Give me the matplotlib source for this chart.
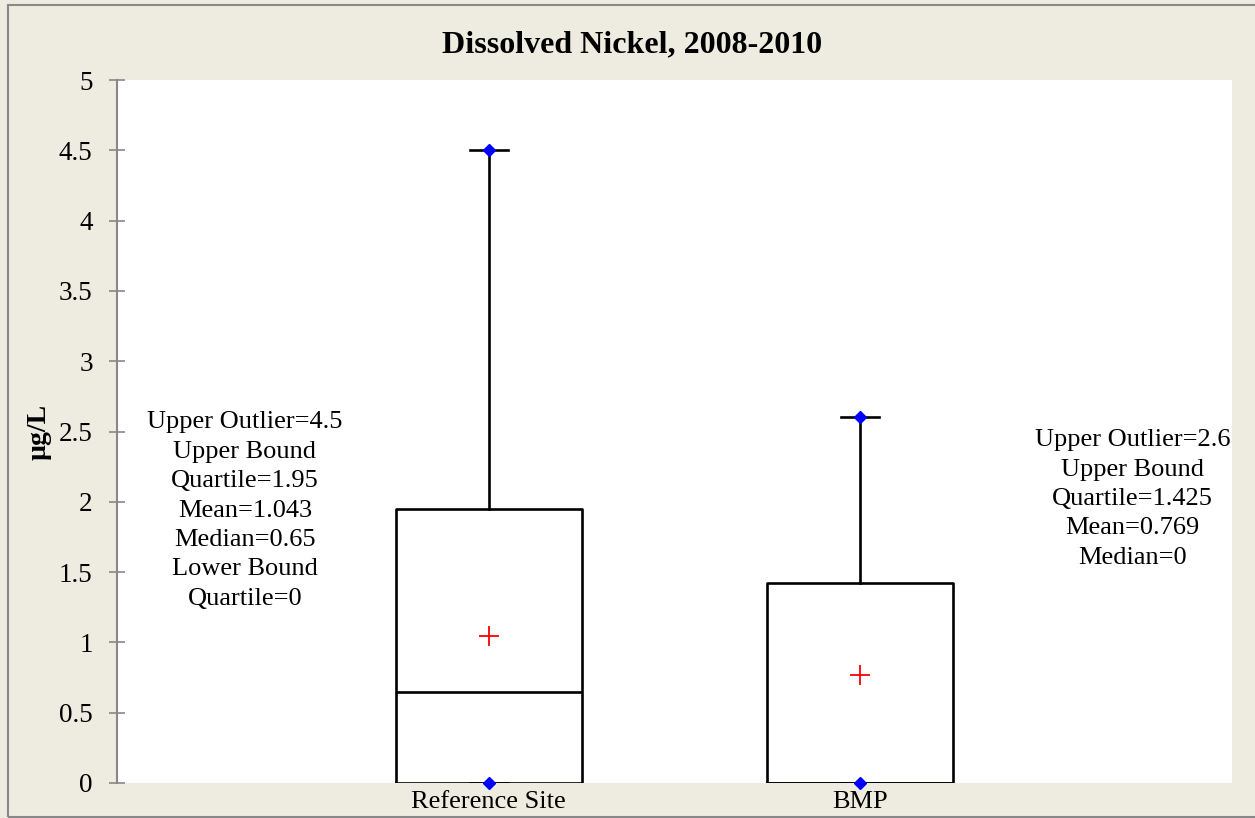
import matplotlib.pyplot as plt
import matplotlib.patches as mpatches

plt.rcParams["font.family"] = ["Liberation Serif", "DejaVu Serif"]

# ─── DONNÉES ──────────────────────────────────────────────────────────────────
sites     = ["Reference Site", "BMP"]
whis_lo   = [0.0, 0.0]
q1        = [0.0, 0.0]
medians   = [0.65, 0.0]
q3        = [1.95, 1.425]
whis_hi   = [4.5, 2.6]
means     = [1.043, 0.769]
outliers  = [[4.5, 0.0], [2.6, 0.0]]

notes = [
    "Upper Outlier=4.5\nUpper Bound\nQuartile=1.95\nMean=1.043\nMedian=0.65\nLower Bound\nQuartile=0",
    "Upper Outlier=2.6\nUpper Bound\nQuartile=1.425\nMean=0.769\nMedian=0",
]
yticks = [0, 0.5, 1, 1.5, 2, 2.5, 3, 3.5, 4, 4.5, 5]
ytick_labels = ["0", "0.5", "1", "1.5", "2", "2.5", "3", "3.5", "4", "4.5", "5"]

BG = "#EEEBE0"

fig = plt.figure(figsize=(12.55, 8.18), dpi=100, facecolor=BG)
ax = fig.add_axes([117 / 1255, 35 / 818, 1115 / 1255, 703 / 818])
ax.set_facecolor("white")

# cadre extérieur
fig.patches.append(mpatches.Rectangle((8 / 1255, 1 / 818), 1.2, 812 / 818,
                                      transform=fig.transFigure, fill=False,
                                      edgecolor="#888888", linewidth=1.5))

stats = []
for i in range(len(sites)):
    stats.append(dict(label=sites[i], whislo=whis_lo[i], q1=q1[i], med=medians[i],
                      q3=q3[i], whishi=whis_hi[i], mean=means[i], fliers=[]))

positions = list(range(1, len(sites) + 1))
line_kw = dict(color="black", linewidth=1.9)
ax.bxp(stats, positions=positions, widths=0.5, capwidths=0.102,
       showmeans=True, showfliers=False,
       boxprops=line_kw, medianprops=line_kw, whiskerprops=line_kw, capprops=line_kw,
       meanprops=dict(marker="+", markeredgecolor="red", markersize=14, markeredgewidth=1.3))

for pos, pts in zip(positions, outliers):
    ax.plot([pos] * len(pts), pts, linestyle="none", marker="D", color="blue",
            markersize=6, zorder=5, clip_on=False)

ax.text(0.344, 1.938, notes[0], ha="center", va="center", fontsize=19, linespacing=1.44)
ax.text(2.733, 2.02, notes[1], ha="center", va="center", fontsize=19, linespacing=1.44)

ax.set_xlim(0, 3)
ax.set_ylim(0, 5)
ax.set_yticks(yticks)
ax.set_yticklabels(ytick_labels, fontsize=19.5)
ax.set_xticks(positions)
ax.set_xticklabels(sites, fontsize=19)
ax.tick_params(axis="y", direction="inout", length=11, width=1.2, color="#888888", pad=12)
ax.tick_params(axis="x", length=0, pad=6)

for side in ["top", "right", "bottom"]:
    ax.spines[side].set_visible(False)
ax.spines["left"].set_color("#888888")
ax.spines["left"].set_linewidth(1.5)

ax.set_ylabel("µg/L", fontsize=20, fontweight="bold", labelpad=5)
fig.text(0.5035, 1 - 45 / 818, "Dissolved Nickel, 2008-2010", ha="center", va="center",
         fontsize=23, fontweight="bold")

plt.savefig("out.png", dpi=100, facecolor=BG)
